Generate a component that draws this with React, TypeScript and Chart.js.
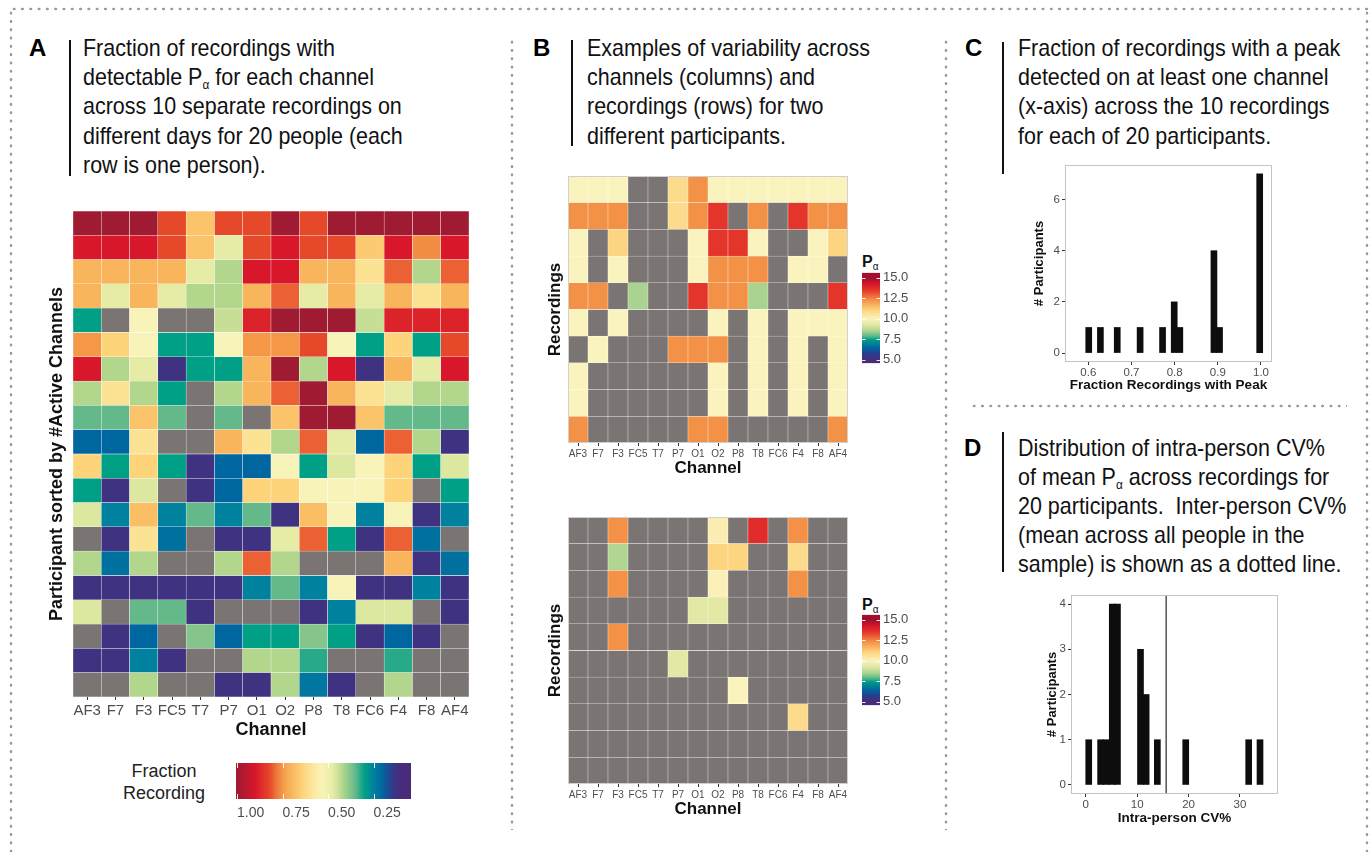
import React, { useEffect, useRef } from "react";
import { Chart, registerables } from "chart.js";

Chart.register(...registerables);

const SANS = "'Liberation Sans', Arial, Helvetica, sans-serif";
Chart.defaults.font.family = SANS;
Chart.defaults.color = "#4D4D4D";

// ---------------- DATA ----------------
const channels = ["AF3", "F7", "F3", "FC5", "T7", "P7", "O1", "O2", "P8", "T8", "FC6", "F4", "F8", "AF4"];

// Panel A: fraction of recordings with detectable Pα per channel (rows = participants, top to bottom). 0 = never detected (grey)
const fractionRows: number[][] = [
  [1.0, 1.0, 1.0, 0.82, 0.67, 0.82, 0.82, 1.0, 0.82, 1.0, 1.0, 1.0, 1.0, 1.0],
  [0.9, 0.9, 0.9, 0.82, 0.67, 0.47, 0.82, 0.9, 0.82, 0.82, 0.66, 0.9, 0.76, 0.9],
  [0.7, 0.7, 0.7, 0.7, 0.47, 0.42, 0.9, 0.9, 0.7, 0.7, 0.6, 0.8, 0.42, 0.8],
  [0.7, 0.47, 0.7, 0.47, 0.42, 0.42, 0.7, 0.8, 0.47, 0.7, 0.47, 0.7, 0.6, 0.7],
  [0.3, 0, 0.53, 0, 0, 0.44, 0.88, 1.0, 1.0, 1.0, 0.44, 0.88, 0.88, 0.88],
  [0.75, 0.64, 0.53, 0.3, 0.3, 0.53, 0.75, 0.75, 0.82, 0.53, 0.3, 0.64, 0.3, 0.82],
  [0.9, 0.42, 0.47, 0.12, 0.3, 0.3, 0.7, 1.0, 0.42, 0.9, 0.12, 0.7, 0.47, 0.9],
  [0.42, 0.6, 0.42, 0.3, 0, 0.42, 0.7, 0.8, 1.0, 0.7, 0.6, 0.47, 0.42, 0.42],
  [0.35, 0.35, 0.67, 0.35, 0, 0.35, 0, 0.67, 1.0, 1.0, 0.67, 0.35, 0.35, 0.35],
  [0.2, 0.2, 0.6, 0, 0, 0.7, 0.6, 0.42, 0.8, 0.47, 0.2, 0.8, 0.42, 0.12],
  [0.64, 0.3, 0.64, 0.3, 0.12, 0.2, 0.2, 0.53, 0.3, 0.46, 0.53, 0.64, 0.3, 0.46],
  [0.3, 0.12, 0.46, 0, 0.12, 0.2, 0.64, 0.64, 0.53, 0.53, 0.53, 0.64, 0, 0.3],
  [0.46, 0.25, 0.68, 0.25, 0.35, 0.25, 0.35, 0.12, 0.68, 0.53, 0.25, 0.53, 0.12, 0.25],
  [0, 0.12, 0.6, 0.22, 0, 0.12, 0.12, 0.47, 0.8, 0.3, 0.12, 0.8, 0.22, 0],
  [0.42, 0.22, 0.42, 0, 0, 0.42, 0.8, 0.42, 0, 0, 0, 0.7, 0.12, 0.22],
  [0.12, 0.12, 0.12, 0.12, 0.12, 0.12, 0.25, 0.35, 0.25, 0.53, 0.12, 0.12, 0.25, 0.12],
  [0.46, 0, 0.35, 0.35, 0.12, 0, 0, 0, 0.12, 0.25, 0.46, 0.46, 0, 0.12],
  [0, 0.12, 0.2, 0, 0.38, 0.2, 0.3, 0.3, 0.38, 0.3, 0.12, 0.2, 0.12, 0],
  [0.12, 0.12, 0.25, 0.12, 0, 0, 0.42, 0.42, 0.32, 0, 0, 0.32, 0, 0],
  [0, 0, 0.42, 0, 0, 0.12, 0.12, 0.42, 0.23, 0.12, 0, 0.42, 0, 0],
];
const fractionTicks = [1.0, 0.75, 0.5, 0.25];

// Panel B: Pα per recording (rows) and channel (columns); null = no peak (grey)
const paParticipant1: (number | null)[][] = [
  [10, 10, 10, null, null, 10.8, 12.3, 10, 10, 10, 10, 10, 10, 10],
  [12.3, 12.3, 12.3, null, null, 10.8, 12.3, 13.5, null, 12.3, null, 13.5, 12.3, 12.3],
  [10, null, 11, null, null, null, 10, 13.5, 13.5, 10, null, null, 10, 11],
  [10, null, 10, null, null, null, 10, 12.3, 12.3, 12.3, null, 10, 10, null],
  [12.3, 12.3, null, 8.5, null, null, 13.5, 12.3, 12.3, 8.5, null, null, null, 13.5],
  [10, null, 10, null, null, null, null, 10, null, 10, null, 10, 10, 10],
  [null, 10, null, null, null, 12.3, 12.3, 12.3, null, 10, null, 10, null, 10],
  [10, null, null, null, null, null, null, 10, null, 10, null, 10, null, 10],
  [10, null, null, null, null, null, null, 10, null, 10, null, 10, null, 10],
  [12.3, null, null, null, null, null, 12.3, 12.3, null, null, null, null, null, 12.3],
];
const paParticipant2: (number | null)[][] = [
  [null, null, 12.3, null, null, null, null, 10.2, null, 13.7, null, 12.3, null, null],
  [null, null, 8.6, null, null, null, null, 11, 11, null, null, 10.8, null, null],
  [null, null, 12.3, null, null, null, null, 10.1, null, null, null, 12.3, null, null],
  [null, null, null, null, null, null, 9.3, 9.3, null, null, null, null, null, null],
  [null, null, 12.3, null, null, null, null, null, null, null, null, null, null, null],
  [null, null, null, null, null, 9.3, null, null, null, null, null, null, null, null],
  [null, null, null, null, null, null, null, null, 10, null, null, null, null, null],
  [null, null, null, null, null, null, null, null, null, null, null, 10.8, null, null],
  [null, null, null, null, null, null, null, null, null, null, null, null, null, null],
  [null, null, null, null, null, null, null, null, null, null, null, null, null, null],
];
const paTicks = [5, 7.5, 10, 12.5, 15];

// Panel C: histogram of fraction of recordings with a peak
const peakFraction = [0.601, 0.628, 0.667, 0.72, 0.772, 0.799, 0.812, 0.891, 0.904, 0.997];
const peakCount = [1, 1, 1, 1, 1, 2, 1, 4, 1, 7];
const peakTicks = [0.6, 0.7, 0.8, 0.9, 1.0];
const peakCountTicks = [0, 2, 4, 6];

// Panel D: histogram of intra-person CV%
const cvPercent = [0.58, 2.89, 4.03, 5.16, 6.17, 10.65, 11.75, 13.93, 19.45, 31.7, 33.9];
const cvCount = [1, 1, 1, 4, 4, 3, 2, 1, 1, 1, 1];
const interPersonCV = 15.65;
const cvTicks = [0, 10, 20, 30];
const cvCountTicks = [0, 1, 2, 3, 4];

// ---------------- COLOUR SCALES ----------------
const NA_GREY = "#7A7572";
const fractionStops: [number, string][] = [
  [0.1, "#4A2A7A"], [0.15, "#2F3D8C"], [0.2, "#0066A0"], [0.25, "#00829E"], [0.3, "#00A087"],
  [0.35, "#63B98A"], [0.42, "#B3D68D"], [0.47, "#E6EBA5"], [0.53, "#F8F3B8"], [0.58, "#FCE9A0"],
  [0.64, "#FDD47A"], [0.7, "#F9B55B"], [0.74, "#F5A24C"], [0.78, "#EF7A3C"], [0.82, "#E6482A"],
  [0.9, "#D8172A"], [1.0, "#9E1B32"],
];
const paStops: [number, string][] = [
  [5, "#4A2A7A"], [5.8, "#243F8E"], [6.5, "#0066A0"], [7.5, "#00A087"], [7.8, "#4DB38A"],
  [8.5, "#A9D38E"], [9.3, "#E3E8A5"], [10, "#FAF3BE"], [11, "#FDD580"], [12.3, "#F39247"],
  [13.5, "#E3352A"], [14.2, "#D8172A"], [15, "#9E0F30"],
];

function hexRgb(h: string) {
  const n = parseInt(h.slice(1), 16);
  return [(n >> 16) & 255, (n >> 8) & 255, n & 255];
}
function scaleColor(stops: [number, string][], v: number): string {
  if (v <= stops[0][0]) return stops[0][1];
  if (v >= stops[stops.length - 1][0]) return stops[stops.length - 1][1];
  for (let i = 0; i < stops.length - 1; i++) {
    const [v0, c0] = stops[i];
    const [v1, c1] = stops[i + 1];
    if (v >= v0 && v <= v1) {
      const t = (v - v0) / (v1 - v0);
      const a = hexRgb(c0), b = hexRgb(c1);
      const m = a.map((x, k) => Math.round(x + (b[k] - x) * t));
      return `rgb(${m[0]},${m[1]},${m[2]})`;
    }
  }
  return NA_GREY;
}
const fractionColor = (v: number | null) => (v === null || v <= 0 ? NA_GREY : scaleColor(fractionStops, v));
const paColor = (v: number | null) => (v === null ? NA_GREY : scaleColor(paStops, v));

// ---------------- PLUGINS ----------------
const panelBorder = (color: string) => ({
  id: "panelBorder",
  afterDatasetsDraw(chart: any) {
    const { ctx, chartArea: a } = chart;
    ctx.save();
    ctx.strokeStyle = color;
    ctx.lineWidth = 1;
    ctx.strokeRect(Math.round(a.left) + 0.5, Math.round(a.top) + 0.5, Math.round(a.right - a.left) - 1, Math.round(a.bottom - a.top) - 1);
    ctx.restore();
  },
});
const colorbarTicks = (axis: "x" | "y") => ({
  id: "cbTicks",
  afterDatasetsDraw(chart: any) {
    const s = chart.scales[axis];
    const a = chart.chartArea;
    const ctx = chart.ctx;
    ctx.save();
    ctx.strokeStyle = "rgba(255,255,255,0.9)";
    ctx.lineWidth = 1;
    s.ticks.forEach((t: any) => {
      const p = Math.round(s.getPixelForValue(t.value)) + 0.5;
      ctx.beginPath();
      if (axis === "y") {
        ctx.moveTo(a.left, p); ctx.lineTo(a.left + 3.5, p);
        ctx.moveTo(a.right - 3.5, p); ctx.lineTo(a.right, p);
      } else {
        ctx.moveTo(p, a.top); ctx.lineTo(p, a.top + 5);
        ctx.moveTo(p, a.bottom - 5); ctx.lineTo(p, a.bottom);
      }
      ctx.stroke();
    });
    ctx.restore();
  },
});

// ---------------- CONFIG BUILDERS ----------------
type HeatOpts = {
  yTitle: string; titleSize: number; tickSize: number; yWidth: number; xHeight: number;
  padTop: number; padRight: number; yTitlePad: number; xTitlePad: number; tickPad: number; border?: string;
};
function heatmapConfig(rows: (number | null)[][], colorOf: (v: number | null) => string, o: HeatOpts) {
  const n = rows.length;
  const datasets = rows.slice().reverse().map((row) => ({
    data: row.map(() => 1),
    backgroundColor: row.map((v) => colorOf(v)),
    borderColor: "rgba(255,255,255,0.6)",
    borderWidth: 0.5,
    borderSkipped: false as const,
    barPercentage: 1,
    categoryPercentage: 1,
  }));
  return {
    type: "bar",
    data: { labels: channels, datasets },
    options: {
      responsive: false,
      animation: false,
      events: [],
      layout: { padding: { top: o.padTop, right: o.padRight, left: 0, bottom: 0 } },
      plugins: { legend: { display: false }, tooltip: { enabled: false } },
      scales: {
        x: {
          stacked: true,
          grid: { display: true, drawOnChartArea: false, drawTicks: true, tickLength: 3, color: "#333", offset: false },
          border: { display: false },
          ticks: { font: { size: o.tickSize }, color: "#4D4D4D", padding: o.tickPad, autoSkip: false, maxRotation: 0 },
          title: { display: true, text: "Channel", color: "#111", font: { size: o.titleSize, weight: "bold" }, padding: { top: 0, bottom: o.xTitlePad } },
          afterFit: (s: any) => { s.height = o.xHeight; },
        },
        y: {
          stacked: true,
          min: 0,
          max: n,
          ticks: { display: false },
          grid: { display: false, drawTicks: false },
          border: { display: false },
          title: { display: true, text: o.yTitle, color: "#111", font: { size: o.titleSize, weight: "bold" }, padding: { top: o.yTitlePad, bottom: 0 } },
          afterFit: (s: any) => { s.width = o.yWidth; },
        },
      },
    },
    plugins: o.border ? [panelBorder(o.border)] : [],
  };
}

function gradientFill(stops: [number, string][], axis: "x" | "y") {
  return (ctx: any) => {
    const chart = ctx.chart;
    const s = chart.scales[axis];
    if (!chart.chartArea || !s) return "rgba(0,0,0,0)";
    const p0 = s.getPixelForValue(s.min), p1 = s.getPixelForValue(s.max);
    const g = axis === "y" ? chart.ctx.createLinearGradient(0, p0, 0, p1) : chart.ctx.createLinearGradient(p0, 0, p1, 0);
    for (let i = 0; i <= 60; i++) {
      const v = s.min + ((s.max - s.min) * i) / 60;
      g.addColorStop(i / 60, scaleColor(stops, v));
    }
    return g;
  };
}

function paColorbarConfig() {
  const min = 4.6, max = 15.6;
  return {
    type: "bar",
    data: { labels: [""], datasets: [{ data: [[min, max]], backgroundColor: gradientFill(paStops, "y"), borderWidth: 0, barPercentage: 1, categoryPercentage: 1 }] },
    options: {
      responsive: false, animation: false, events: [],
      layout: { padding: { left: 7, top: 9, bottom: 8, right: 0 } },
      plugins: { legend: { display: false }, tooltip: { enabled: false } },
      scales: {
        x: { display: false },
        y: {
          position: "right", min, max,
          afterBuildTicks: (s: any) => { s.ticks = paTicks.map((v) => ({ value: v })); },
          ticks: { callback: (v: any) => Number(v).toFixed(1), font: { size: 13 }, color: "#4D4D4D", padding: 3 },
          grid: { display: false, drawTicks: false },
          border: { display: false },
          afterFit: (s: any) => { s.width = 45; },
        },
      },
    },
    plugins: [colorbarTicks("y")],
  };
}

function fractionColorbarConfig() {
  const min = 0.044, max = 1.0055;
  return {
    type: "bar",
    data: { labels: [""], datasets: [{ data: [[min, max]], backgroundColor: gradientFill(fractionStops, "x"), borderWidth: 0, barPercentage: 1, categoryPercentage: 1 }] },
    options: {
      indexAxis: "y",
      responsive: false, animation: false, events: [],
      layout: { padding: { left: 8, right: 17, top: 8, bottom: 0 } },
      plugins: { legend: { display: false }, tooltip: { enabled: false } },
      scales: {
        y: { display: false },
        x: {
          min, max, reverse: true,
          afterBuildTicks: (s: any) => { s.ticks = fractionTicks.map((v) => ({ value: v })); },
          ticks: { callback: (v: any) => Number(v).toFixed(2), font: { size: 14 }, color: "#4D4D4D", padding: 6, align: "start", maxRotation: 0 },
          grid: { display: false, drawTicks: false },
          border: { display: false },
          afterFit: (s: any) => { s.height = 31; },
        },
      },
    },
    plugins: [colorbarTicks("x")],
  };
}

type HistOpts = {
  xs: number[]; ys: number[]; xMin: number; xMax: number; yMin: number; yMax: number;
  xTicks: number[]; yTicks: number[]; xFmt: (v: number) => string; xTitle: string;
  padTop: number; padRight: number; yWidth: number; xHeight: number; yTitlePad: number; xTitlePad: number;
  vline?: number;
};
function histConfig(o: HistOpts) {
  const datasets: any[] = [
    { type: "bar", data: o.xs.map((x, i) => ({ x, y: o.ys[i] })), backgroundColor: "#0D0D0D", borderWidth: 0, barThickness: 6 },
  ];
  if (o.vline !== undefined) {
    datasets.push({
      type: "line",
      data: [{ x: o.vline, y: o.yMin }, { x: o.vline, y: o.yMax }],
      borderColor: "#5E5E5E", borderWidth: 1.6, pointRadius: 0, fill: false,
    });
  }
  return {
    type: "bar",
    data: { datasets },
    options: {
      responsive: false, animation: false, events: [],
      layout: { padding: { top: o.padTop, right: o.padRight, left: 0, bottom: 0 } },
      plugins: { legend: { display: false }, tooltip: { enabled: false } },
      scales: {
        x: {
          type: "linear", min: o.xMin, max: o.xMax, offset: false,
          afterBuildTicks: (s: any) => { s.ticks = o.xTicks.map((v) => ({ value: v })); },
          ticks: { callback: (v: any) => o.xFmt(Number(v)), font: { size: 11.5 }, color: "#4D4D4D", padding: 1, maxRotation: 0 },
          grid: { display: true, drawOnChartArea: false, tickLength: 3, color: "#333", offset: false },
          border: { display: false },
          title: { display: true, text: o.xTitle, color: "#111", font: { size: 13.5, weight: "bold" }, padding: { top: 0, bottom: o.xTitlePad } },
          afterFit: (s: any) => { s.height = o.xHeight; },
        },
        y: {
          min: o.yMin, max: o.yMax,
          afterBuildTicks: (s: any) => { s.ticks = o.yTicks.map((v) => ({ value: v })); },
          ticks: { font: { size: 11.5 }, color: "#4D4D4D", padding: 2 },
          grid: { display: true, drawOnChartArea: false, tickLength: 3, color: "#333" },
          border: { display: false },
          title: { display: true, text: "# Participants", color: "#111", font: { size: 13, weight: "bold" }, padding: { top: o.yTitlePad, bottom: 0 } },
          afterFit: (s: any) => { s.width = o.yWidth; },
        },
      },
    },
    plugins: [panelBorder("#C4C4C4")],
  };
}

// ---------------- COMPONENTS ----------------
function ChartCanvas({ left, top, width, height, config }: { left: number; top: number; width: number; height: number; config: () => any }) {
  const ref = useRef<HTMLCanvasElement>(null);
  useEffect(() => {
    const chart = new Chart(ref.current as HTMLCanvasElement, config());
    return () => chart.destroy();
  }, []);
  return <canvas ref={ref} width={width} height={height} style={{ position: "absolute", left, top, width, height }} />;
}

function DotLine({ x, y, length, vertical }: { x: number; y: number; length: number; vertical?: boolean }) {
  const dot = "radial-gradient(circle, #9a9a9a 1.1px, rgba(255,255,255,0) 1.7px)";
  const style: React.CSSProperties = vertical
    ? { position: "absolute", left: x - 2, top: y, width: 4, height: length, backgroundImage: dot, backgroundSize: "4px 8.3px", backgroundRepeat: "repeat-y" }
    : { position: "absolute", left: x, top: y - 2, width: length, height: 4, backgroundImage: dot, backgroundSize: "8.3px 4px", backgroundRepeat: "repeat-x" };
  return <div style={style} />;
}

const Sub = () => (
  <span style={{ fontSize: "0.55em", position: "relative", top: "0.3em", lineHeight: 0 }}>α</span>
);

function Caption({ letter, letterX, barX, textX, top, barTop, barBottom, lines }: {
  letter: string; letterX: number; barX: number; textX: number; top: number; barTop: number; barBottom: number; lines: React.ReactNode[];
}) {
  return (
    <>
      <div style={{ position: "absolute", left: letterX, top, fontFamily: SANS, fontWeight: "bold", fontSize: 24, lineHeight: "29.2px", color: "#000" }}>{letter}</div>
      <div style={{ position: "absolute", left: barX, top: barTop, width: 2, height: barBottom - barTop, background: "#111" }} />
      <div style={{ position: "absolute", left: textX, top, fontFamily: SANS, fontSize: 24, lineHeight: "29.2px", color: "#111", whiteSpace: "pre", transform: "scaleX(0.895)", transformOrigin: "left top" }}>
        {lines.map((l, i) => <div key={i}>{l}</div>)}
      </div>
    </>
  );
}

function PaTitle({ left, top }: { left: number; top: number }) {
  return (
    <div style={{ position: "absolute", left, top, fontFamily: SANS, fontWeight: "bold", fontSize: 16, lineHeight: "16px", color: "#111" }}>
      P<span style={{ fontSize: 10, fontWeight: "normal", position: "relative", top: 3 }}>α</span>
    </div>
  );
}

export default function App() {
  return (
    <div style={{ position: "absolute", left: 0, top: 0, width: 1369, height: 852, background: "#fff", overflow: "hidden" }}>
      {/* dotted frame */}
      <DotLine x={10} y={9} length={1359} />
      <DotLine x={11} y={9} length={843} vertical />
      <DotLine x={1367} y={9} length={843} vertical />
      <DotLine x={512} y={38} length={792} vertical />
      <DotLine x={946} y={38} length={792} vertical />
      <DotLine x={970} y={406} length={377} />

      <Caption letter="A" letterX={29} barX={68.5} textX={83} top={33} barTop={40} barBottom={176}
        lines={["Fraction of recordings with", <>detectable P<Sub /> for each channel</>, "across 10 separate recordings on", "different days for 20 people (each", "row is one person)."]} />
      <Caption letter="B" letterX={533} barX={571} textX={587} top={33} barTop={40} barBottom={146}
        lines={["Examples of variability across", "channels (columns) and", "recordings (rows) for two", "different participants."]} />
      <Caption letter="C" letterX={965} barX={1002} textX={1018} top={33} barTop={42} barBottom={174}
        lines={["Fraction of recordings with a peak", "detected on at least one channel", "(x-axis) across the 10 recordings", "for each of 20 participants."]} />
      <Caption letter="D" letterX={964} barX={1002} textX={1018} top={432.5} barTop={432} barBottom={572}
        lines={["Distribution of intra-person CV%", <>of mean P<Sub /> across recordings for</>, "20 participants.  Inter-person CV%", "(mean across all people in the", "sample) is shown as a dotted line."]} />

      {/* Panel A */}
      <ChartCanvas left={36} top={200} width={440} height={545} config={() => heatmapConfig(fractionRows, fractionColor, {
        yTitle: "Participant sorted by #Active Channels", titleSize: 18, tickSize: 15, yWidth: 37, xHeight: 48,
        padTop: 11, padRight: 7, yTitlePad: 10, xTitlePad: 4, tickPad: 2,
      })} />
      <div style={{ position: "absolute", left: 104, top: 760, width: 120, textAlign: "center", fontFamily: SANS, fontSize: 18, lineHeight: "22px", color: "#222" }}>
        Fraction<br />Recording
      </div>
      <ChartCanvas left={228} top={755} width={200} height={75} config={fractionColorbarConfig} />

      {/* Panel B */}
      <ChartCanvas left={530} top={166} width={325} height={315} config={() => heatmapConfig(paParticipant1, paColor, {
        yTitle: "Recordings", titleSize: 17, tickSize: 10, yWidth: 38, xHeight: 38,
        padTop: 10, padRight: 7, yTitlePad: 15, xTitlePad: 2, tickPad: 2, border: "#D0D0D0",
      })} />
      <PaTitle left={862} top={254} />
      <ChartCanvas left={855} top={262} width={70} height={112} config={paColorbarConfig} />

      <ChartCanvas left={530} top={507} width={325} height={315} config={() => heatmapConfig(paParticipant2, paColor, {
        yTitle: "Recordings", titleSize: 17, tickSize: 10, yWidth: 38, xHeight: 38,
        padTop: 10, padRight: 7, yTitlePad: 15, xTitlePad: 2, tickPad: 2, border: "#D0D0D0",
      })} />
      <PaTitle left={862} top={597} />
      <ChartCanvas left={855} top={604} width={70} height={112} config={paColorbarConfig} />

      {/* Panel C */}
      <ChartCanvas left={1025} top={155} width={260} height={245} config={() => histConfig({
        xs: peakFraction, ys: peakCount, xMin: 0.546, xMax: 1.0255, yMin: -0.35, yMax: 7.35,
        xTicks: peakTicks, yTicks: peakCountTicks, xFmt: (v) => v.toFixed(1), xTitle: "Fraction Recordings with Peak",
        padTop: 10, padRight: 13, yWidth: 40, xHeight: 38, yTitlePad: 7, xTitlePad: 7,
      })} />

      {/* Panel D */}
      <ChartCanvas left={1030} top={585} width={260} height={250} config={() => histConfig({
        xs: cvPercent, ys: cvCount, xMin: -2.87, xMax: 37.4, yMin: -0.2, yMax: 4.2,
        xTicks: cvTicks, yTicks: cvCountTicks, xFmt: (v) => String(Math.round(v)), xTitle: "Intra-person CV%",
        padTop: 10, padRight: 12, yWidth: 41, xHeight: 41, yTitlePad: 15, xTitlePad: 9, vline: interPersonCV,
      })} />
    </div>
  );
}
